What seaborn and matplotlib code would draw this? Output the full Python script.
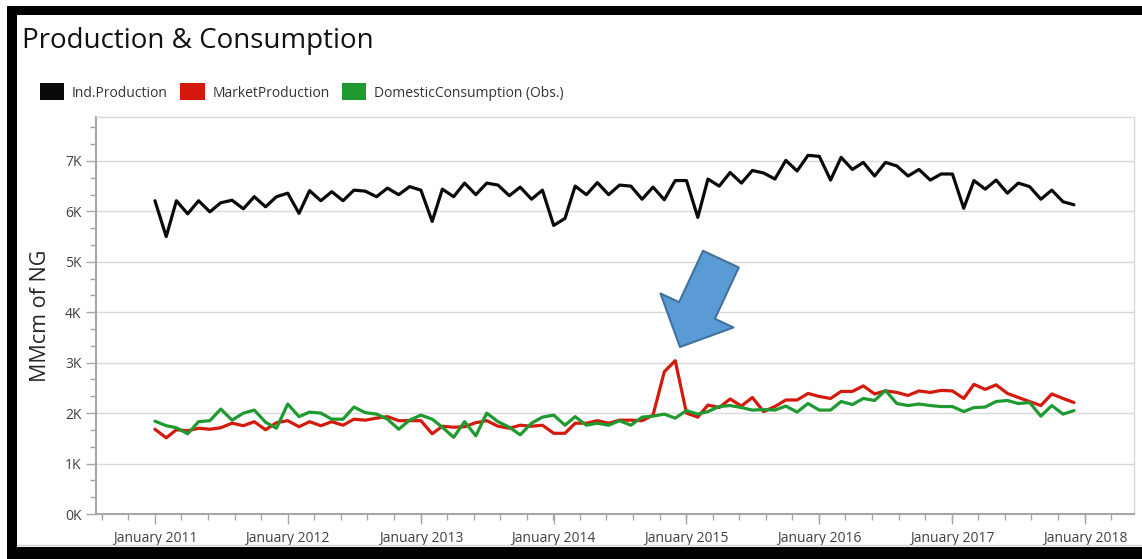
import pandas as pd
import numpy as np
import seaborn as sns
import matplotlib as mpl
import matplotlib.pyplot as plt
import matplotlib.dates as mdates
from matplotlib.ticker import AutoMinorLocator, FuncFormatter
from matplotlib.patches import Patch, Rectangle
from matplotlib.lines import Line2D

# monthly values, Jan 2011 - Dec 2017 (MMcm)
ind_production = [
    6210, 5500, 6210, 5950, 6210, 5990, 6170, 6220, 6050, 6290, 6090, 6290,
    6360, 5960, 6410, 6210, 6390, 6210, 6420, 6400, 6290, 6460, 6330, 6490,
    6420, 5800, 6440, 6290, 6560, 6330, 6560, 6520, 6310, 6480, 6240, 6420,
    5720, 5860, 6500, 6330, 6570, 6330, 6520, 6500, 6240, 6480, 6230, 6610,
    6610, 5880, 6640, 6500, 6770, 6560, 6810, 6760, 6640, 7010, 6800, 7110,
    7090, 6620, 7070, 6830, 6970, 6700, 6970, 6900, 6700, 6830, 6620, 6740,
    6740, 6060, 6610, 6440, 6620, 6360, 6560, 6490, 6240, 6420, 6190, 6130,
]
market_production = [
    1680, 1510, 1670, 1650, 1700, 1680, 1710, 1800, 1750, 1830, 1670, 1810,
    1850, 1730, 1830, 1750, 1830, 1760, 1880, 1860, 1900, 1930, 1850, 1850,
    1850, 1590, 1740, 1720, 1730, 1810, 1850, 1740, 1700, 1760, 1740, 1760,
    1600, 1600, 1800, 1800, 1850, 1800, 1860, 1860, 1850, 1960, 2820, 3040,
    2000, 1920, 2160, 2110, 2280, 2140, 2310, 2030, 2130, 2260, 2260, 2390,
    2330, 2290, 2430, 2430, 2540, 2380, 2440, 2410, 2350, 2440, 2410, 2450,
    2440, 2290, 2570, 2470, 2560, 2390, 2310, 2230, 2150, 2380, 2290, 2210,
]
domestic_consumption = [
    1840, 1750, 1710, 1590, 1830, 1850, 2080, 1860, 2000, 2060, 1820, 1700,
    2180, 1930, 2020, 2000, 1880, 1880, 2120, 2010, 1980, 1880, 1680, 1860,
    1960, 1880, 1720, 1520, 1830, 1550, 2000, 1830, 1720, 1570, 1800, 1920,
    1960, 1760, 1930, 1760, 1800, 1760, 1850, 1760, 1920, 1940, 1980, 1900,
    2050, 1980, 2030, 2130, 2150, 2110, 2060, 2070, 2060, 2140, 2020, 2190,
    2060, 2060, 2230, 2170, 2290, 2250, 2450, 2190, 2150, 2180, 2150, 2130,
    2130, 2030, 2110, 2120, 2230, 2250, 2190, 2210, 1940, 2150, 1980, 2050,
]
series_names = ['Ind.Production', 'MarketProduction', 'DomesticConsumption (Obs.)']
series_colors = ['#0a0a0a', '#d41a0c', '#1f9a30']

dates = pd.date_range('2011-01-01', periods=len(ind_production), freq='MS')
df = pd.concat([
    pd.DataFrame({'date': dates, 'value': vals, 'series': name})
    for name, vals in zip(series_names, [ind_production, market_production, domestic_consumption])
])

sns.set_theme(style='white')
plt.rcParams['font.family'] = ['Open Sans', 'DejaVu Sans']

fig = plt.figure(figsize=(11.42, 5.59), dpi=100)
ax = fig.add_axes([96/1142, 45/559, 1038/1142, 397/559])

sns.lineplot(data=df, x='date', y='value', hue='series', hue_order=series_names,
             palette=series_colors, linewidth=2.3, legend=False, ax=ax)

ax.set_xlim(pd.Timestamp('2010-07-23'), pd.Timestamp('2018-05-15'))
ax.set_ylim(0, 7870)
ax.xaxis.set_major_locator(mdates.YearLocator())
ax.xaxis.set_major_formatter(mdates.DateFormatter('%B %Y'))
ax.xaxis.set_minor_locator(AutoMinorLocator(5))
ax.yaxis.set_major_locator(mpl.ticker.MultipleLocator(1000))
ax.yaxis.set_minor_locator(AutoMinorLocator(3))
ax.yaxis.set_major_formatter(FuncFormatter(lambda v, p: f'{int(round(v/1000))}K'))

ax.grid(axis='y', color='#d9d9d9', linewidth=1)
ax.grid(axis='x', visible=False)
for s in ['left', 'bottom']:
    ax.spines[s].set_color('#a6a6a6')
    ax.spines[s].set_linewidth(1.5)
for s in ['top', 'right']:
    ax.spines[s].set_color('#d9d9d9')
    ax.spines[s].set_linewidth(1)
ax.tick_params(which='major', length=7, width=1, color='#a6a6a6', labelsize=10, labelcolor='#404040',
               bottom=True, left=True)
ax.tick_params(which='minor', length=4, width=1, color='#a6a6a6', bottom=True, left=True)
ax.tick_params(axis='x', pad=5)

ax.set_xlabel('')
ax.set_ylabel('MMcm of NG', fontsize=15.5, color='#262626')
ax.yaxis.set_label_coords(-0.043, 0.5)

# callout arrow pointing at the MarketProduction spike
ax.annotate('', xy=(0.5626, 0.4207), xytext=(0.602, 0.642), xycoords='axes fraction',
            arrowprops=dict(arrowstyle='simple,head_length=0.5,head_width=1.0,tail_width=0.49',
                            mutation_scale=58, fc='#5b9bd5', ec='#41719c', lw=1.5,
                            shrinkA=0, shrinkB=0))

fig.text(22/1142, 1 - 41/559, 'Production & Consumption', fontsize=20, color='#111111', va='center')

handles = [Patch(facecolor=c, edgecolor='none') for c in series_colors]
fig.legend(handles, series_names, loc='center left', bbox_to_anchor=(33/1142, 1 - 92/559),
           ncol=3, frameon=False, fontsize=10, handlelength=1.75, handleheight=1.5,
           handletextpad=0.55, columnspacing=0.9, borderpad=0, labelcolor='#333333')

# panel border and black frame
fig.add_artist(Line2D([17/1142, 1], [1 - 545/559, 1 - 545/559], transform=fig.transFigure,
                      color='#d0d0d0', lw=1))
fig.add_artist(Rectangle((7/1142, 1 - 15/559), 1, 9/559, transform=fig.transFigure,
                         color='black', lw=0))
fig.add_artist(Rectangle((7/1142, 0), 10/1142, 1 - 6/559, transform=fig.transFigure,
                         color='black', lw=0))
fig.add_artist(Rectangle((7/1142, 0), 1, 12/559, transform=fig.transFigure,
                         color='black', lw=0))

fig.savefig('out.png', dpi=100)
